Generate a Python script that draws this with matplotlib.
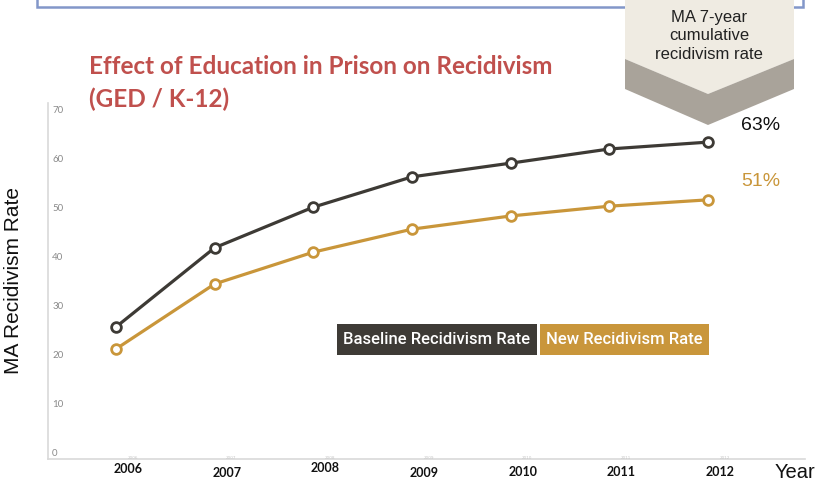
import numpy as np
import matplotlib
matplotlib.use('Agg')
import matplotlib.pyplot as plt
from matplotlib.patches import Polygon, Rectangle
from matplotlib.transforms import ScaledTranslation

# data
years = [2006, 2007, 2008, 2009, 2010, 2011, 2012]
baseline = [25.6, 41.8, 50.1, 56.3, 59.1, 62.0, 63.4]
new_rate = [21.1, 34.4, 40.9, 45.6, 48.3, 50.3, 51.6]
yticks = [0, 10, 20, 30, 40, 50, 60, 70]
final_labels = ['63%', '51%']

dark = '#3d3a35'
gold = '#c9963a'
red = '#c0504d'

fig = plt.figure(figsize=(8.32, 4.83), dpi=100)

# main chart
ax = fig.add_axes([48/832, (483-459)/483, (805-48)/832, (459-103)/483])
ax.plot(years, baseline, '-o', color=dark, lw=2.3, ms=7, mfc='white', mew=2, zorder=3)
ax.plot(years, new_rate, '-o', color=gold, lw=2.3, ms=7, mfc='white', mew=2, zorder=3)
ax.set_xlim(2006 - 68/98.7, 2012 + 97/98.7)
ax.set_ylim(-1.4, 71.4)
for s in ['top', 'right']:
    ax.spines[s].set_visible(False)
ax.spines['left'].set_color('#d9d9d9')
ax.spines['bottom'].set_color('#d9d9d9')
ax.spines['left'].set_linewidth(1.2)
ax.spines['bottom'].set_linewidth(1.2)

ax.set_yticks(yticks)
ax.set_yticklabels([str(t) for t in yticks], family='Lato', fontsize=7, color='#8a8a8a')
for lbl in ax.get_yticklabels():
    lbl.set_horizontalalignment('left')
ax.tick_params(axis='y', length=0, pad=-3)

ax.set_xticks(years)
ax.set_xticklabels([str(y) for y in years], family='Lato', fontweight='bold', fontsize=9, color='#111111')
ax.tick_params(axis='x', length=0, pad=4)
dys = [2, -2, 3, -2, -1, -1, -1]
for lbl, dy in zip(ax.get_xticklabels(), dys):
    lbl.set_transform(lbl.get_transform() + ScaledTranslation(12/100, dy/100, fig.dpi_scale_trans))
# faint ghost labels above the year labels
for y in years:
    ax.annotate(str(y), (y, 0), xytext=(12, -4), textcoords='offset points',
                ha='center', va='center', fontsize=3, color='#c8c8c8', annotation_clip=False)

ax.set_ylabel('MA Recidivism Rate', family='Liberation Sans', fontsize=15, color='#111111')
ax.yaxis.set_label_coords(-0.033, 0.5)

# overlay in pixel coordinates
ov = fig.add_axes([0, 0, 1, 1])
ov.set_xlim(0, 832)
ov.set_ylim(483, 0)
ov.axis('off')
ov.patch.set_visible(False)

ov.add_patch(Rectangle((37, -10), 766, 17, fill=False, ec='#8297c9', lw=1.8))
ov.add_patch(Polygon([(625, -1), (794, -1), (794, 59), (708, 94), (625, 59)], closed=True,
                     fc='#efebe2', ec='none'))
ov.add_patch(Polygon([(625, 59), (708, 94), (794, 59), (794, 89), (708, 125), (625, 89)], closed=True,
                     fc='#a9a39a', ec='none'))
ov.text(709, 36, 'MA 7-year\ncumulative\nrecidivism rate', ha='center', va='center',
        family='Liberation Sans', fontsize=12, color='#222222', linespacing=1.3)

ov.text(741, 125, final_labels[0], ha='left', va='center', family='Liberation Sans', fontsize=14, color='#111111')
ov.text(741, 181, final_labels[1], ha='left', va='center', family='Liberation Sans', fontsize=14, color=gold)

ov.text(89, 66, 'Effect of Education in Prison on Recidivism', ha='left', va='center',
        family='Lato', fontweight='bold', fontsize=17.5, color=red)
ov.text(89, 99, '(GED / K-12)', ha='left', va='center',
        family='Lato', fontweight='bold', fontsize=17.5, color=red)

ov.text(775, 473, 'Year', ha='left', va='center', family='Liberation Sans', fontsize=14.5, color='#111111')

# legend boxes
ov.add_patch(Rectangle((337, 324), 200, 31, fc='#3e3b36', ec='none'))
ov.add_patch(Rectangle((540, 324), 169, 31, fc='#c9963b', ec='none'))
ov.text(437, 340, 'Baseline Recidivism Rate', ha='center', va='center',
        family='Roboto', fontweight='medium', fontsize=12, color='white')
ov.text(624.5, 340, 'New Recidivism Rate', ha='center', va='center',
        family='Roboto', fontweight='medium', fontsize=12, color='white')

fig.savefig('out.png', dpi=100)
